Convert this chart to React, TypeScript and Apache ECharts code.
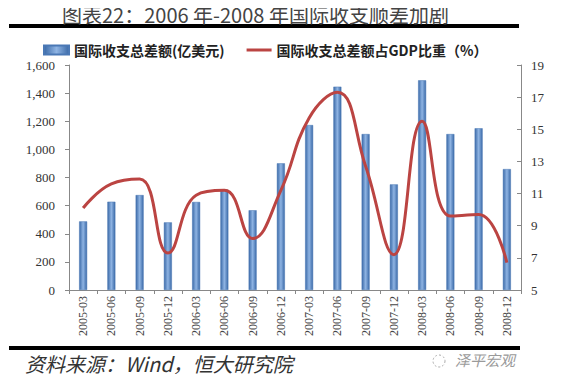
import React, { useEffect, useRef } from "react";
import * as echarts from "echarts";

const categories = [
  "2005-03", "2005-06", "2005-09", "2005-12",
  "2006-03", "2006-06", "2006-09", "2006-12",
  "2007-03", "2007-06", "2007-09", "2007-12",
  "2008-03", "2008-06", "2008-09", "2008-12",
];
const surplus = [488, 628, 675, 481, 626, 713, 567, 901, 1173, 1446, 1109, 751, 1491, 1109, 1150, 860];
const surplusPctGdp = [10.1, 11.6, 11.9, 7.3, 10.9, 11.2, 8.2, 11.2, 15.7, 17.3, 12.7, 7.2, 15.5, 9.6, 9.7, 6.7];
const leftTicks = { min: 0, max: 1600, interval: 200 };
const rightTicks = { min: 5, max: 19, interval: 2 };

const barName = "国际收支总差额(亿美元)";
const lineName = "国际收支总差额占GDP比重（%）";
const titleText = "图表22：2006 年-2008 年国际收支顺差加剧";
const sourceText = "资料来源：Wind，恒大研究院";
const watermark = "泽平宏观";

const CJK = '"Noto Sans CJK SC", sans-serif';
const SERIF = '"Liberation Serif", "DejaVu Serif", serif';

export default function App() {
  const ref = useRef<HTMLDivElement>(null);
  useEffect(() => {
    if (!ref.current) return;
    const chart = echarts.init(ref.current, null, { renderer: "svg" });
    const barGrad = new echarts.graphic.LinearGradient(0, 0, 1, 0, [
      { offset: 0, color: "#3b6aa8" },
      { offset: 0.5, color: "#8fb4e3" },
      { offset: 1, color: "#3b6aa8" },
    ]);
    chart.setOption({
      animation: false,
      backgroundColor: "#ffffff",
      title: {
        text: titleText,
        left: 57,
        top: -1,
        textStyle: { fontFamily: CJK, fontSize: 20, fontWeight: "normal", color: "#444" },
      },
      legend: {
        left: 38,
        top: 38,
        itemWidth: 25,
        itemHeight: 9,
        itemGap: 22,
        symbolKeepAspect: true,
        textStyle: { fontFamily: CJK, fontSize: 14, fontWeight: "bold", color: "#222" },
        data: [
          { name: barName, icon: "rect" },
          { name: lineName, icon: "path://M0,0L25,0L25,3L0,3Z" },
        ],
      },
      grid: { left: 69, right: 47, top: 65, bottom: 92 },
      xAxis: {
        type: "category",
        data: categories,
        boundaryGap: true,
        axisLine: { lineStyle: { color: "#888", width: 1 } },
        axisTick: { show: true, alignWithLabel: false, length: 4, lineStyle: { color: "#888" } },
        axisLabel: { rotate: 90, fontFamily: SERIF, fontSize: 12, color: "#444", margin: 6 },
      },
      yAxis: [
        {
          type: "value",
          min: leftTicks.min,
          max: leftTicks.max,
          interval: leftTicks.interval,
          splitLine: { show: false },
          axisLine: { show: true, lineStyle: { color: "#888" } },
          axisTick: { show: true, length: 4, lineStyle: { color: "#888" } },
          axisLabel: {
            fontFamily: SERIF,
            fontSize: 13,
            color: "#333",
            margin: 14,
            formatter: (v: number) => v.toLocaleString("en-US"),
          },
        },
        {
          type: "value",
          min: rightTicks.min,
          max: rightTicks.max,
          interval: rightTicks.interval,
          splitLine: { show: false },
          axisLine: { show: true, lineStyle: { color: "#888" } },
          axisTick: { show: true, inside: true, length: 4, lineStyle: { color: "#888" } },
          axisLabel: { fontFamily: SERIF, fontSize: 13, color: "#333", margin: 10 },
        },
      ],
      series: [
        {
          name: barName,
          type: "bar",
          data: surplus,
          barWidth: 8,
          itemStyle: { color: barGrad, borderColor: "#4a78b5", borderWidth: 0.5 },
        },
        {
          name: lineName,
          type: "line",
          yAxisIndex: 1,
          data: surplusPctGdp,
          smooth: 0.45,
          symbol: "none",
          lineStyle: { color: "#bb4442", width: 3 },
          itemStyle: { color: "#bb4442" },
        },
      ],
      graphic: [
        { type: "rect", left: 9, top: 24, shape: { width: 510, height: 4 }, style: { fill: "#000" } },
        { type: "rect", left: 9, top: 346, shape: { width: 511, height: 4 }, style: { fill: "#000" } },
        {
          type: "text",
          left: 25,
          top: 353,
          style: { text: sourceText, font: `italic 20px ${CJK}`, fill: "#333" },
        },
        {
          type: "circle",
          shape: { cx: 439, cy: 361, r: 6 },
          style: { fill: "none", stroke: "#aaa", lineWidth: 1, lineDash: [2, 2] },
        },
        {
          type: "text",
          left: 455,
          top: 352,
          style: { text: watermark, font: `italic 15px ${CJK}`, fill: "#9a9a9a" },
        },
      ],
    });
    return () => chart.dispose();
  }, []);
  return <div ref={ref} style={{ margin: -8, width: 568, height: 382 }} />;
}
